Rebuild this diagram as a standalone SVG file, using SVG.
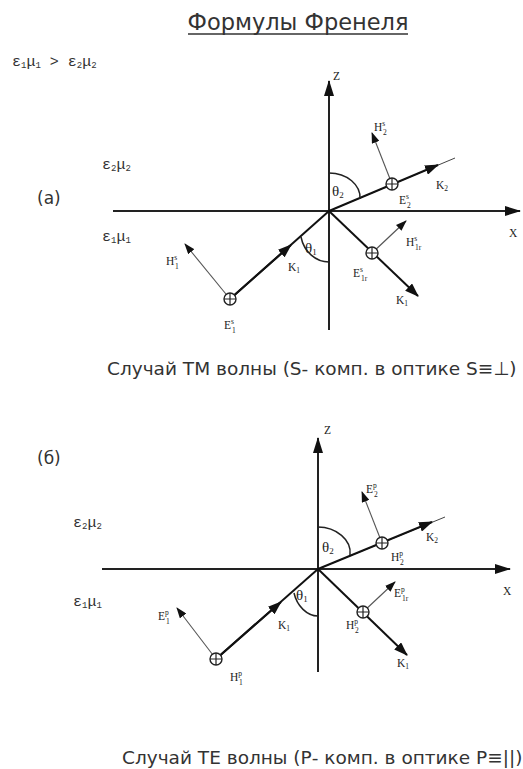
<svg xmlns="http://www.w3.org/2000/svg" width="523" height="769" viewBox="0 0 523 769">
<style>
.ax{stroke:#222;stroke-width:2;fill:none}
.ray{stroke:#111;stroke-width:2;fill:none}
.fld{stroke:#555;stroke-width:1.1;fill:none}
.arc{stroke:#222;stroke-width:1.5;fill:none}
.ext{stroke:#444;stroke-width:1;fill:none}
.cir circle{fill:#fff;stroke:#222;stroke-width:1.4}
.cir path{stroke:#222;stroke-width:1.2}
.lb{font-family:"Liberation Serif","DejaVu Serif",serif;font-size:11.5px;fill:#222}
.sm{font-size:7.5px}
.med{font-family:"Liberation Mono","DejaVu Sans Mono",monospace;font-size:15px;fill:#333}
.sb{font-size:9px}
.th{font-family:"Liberation Serif","DejaVu Serif",serif;font-size:15px;fill:#222}
.sans{font-family:"DejaVu Sans","Liberation Sans",sans-serif;fill:#333}
</style>
<defs>
<marker id="ah" viewBox="0 0 14 10" refX="13" refY="5" markerWidth="14" markerHeight="10" markerUnits="userSpaceOnUse" orient="auto"><path d="M0,0 L14,5 L0,10 z" fill="#111"/></marker>
<marker id="ax" viewBox="0 0 16 10" refX="15" refY="5" markerWidth="16" markerHeight="10" markerUnits="userSpaceOnUse" orient="auto"><path d="M0,0 L16,5 L0,10 z" fill="#111"/></marker>
<marker id="as" viewBox="0 0 11 8" refX="10" refY="4" markerWidth="11" markerHeight="8" markerUnits="userSpaceOnUse" orient="auto"><path d="M0,0 L11,4 L0,8 z" fill="#111"/></marker>
</defs>

<g id="title">
<text class="sans" x="298" y="30" font-size="22.5" text-anchor="middle">Формулы Френеля</text>
<line x1="188" y1="34" x2="408" y2="34" stroke="#333" stroke-width="1.3"/>
</g>
<g id="condition">
<text class="med" x="12" y="66">ε<tspan class="sb" dy="2">1</tspan><tspan dy="-2">μ</tspan><tspan class="sb" dy="2">1</tspan><tspan dy="-2"> &gt; ε</tspan><tspan class="sb" dy="2">2</tspan><tspan dy="-2">μ</tspan><tspan class="sb" dy="2">2</tspan></text>
</g>

<!-- ===== Diagram (a) ===== -->
<g id="connectors-a">
<path class="ax" d="M113,211 L520,211" marker-end="url(#ax)"/>
<path class="ax" d="M329,330 L329,81" stroke-width="1.8" marker-end="url(#ax)"/>
<line class="ext" x1="329" y1="211" x2="455" y2="158"/>
<path class="ray" d="M329,211 L438,165" marker-end="url(#ah)"/>
<path class="ray" d="M329,211 L418,296" marker-end="url(#ah)"/>
<path class="ray" d="M230,299 L329,211"/>
<path class="ray" d="M230,299 L291,245" marker-end="url(#ah)"/>
<path class="fld" d="M392,184 L372,133" marker-end="url(#as)"/>
<path class="fld" d="M372,253 L406,221" marker-end="url(#as)"/>
<path class="fld" d="M230,299 L185,244" marker-end="url(#as)"/>
<path class="arc" d="M329,173 C347,173 361,185 360,199"/>
<path class="arc" d="M301,237 C304,252 316,262 329,262"/>
</g>
<g id="a-E2" class="cir"><circle cx="392" cy="184" r="6"/><path d="M386,184 h12 M392,178 v12"/></g>
<g id="a-E1r" class="cir"><circle cx="372" cy="253" r="6"/><path d="M366,253 h12 M372,247 v12"/></g>
<g id="a-E1" class="cir"><circle cx="230" cy="299" r="6"/><path d="M224,299 h12 M230,293 v12"/></g>
<g id="a-labels">
<text class="sans" x="37" y="204" font-size="17">(a)</text>
<text class="med" x="102" y="169">ε<tspan class="sb" dy="2">2</tspan><tspan dy="-2">μ</tspan><tspan class="sb" dy="2">2</tspan></text>
<text class="med" x="102" y="241">ε<tspan class="sb" dy="2">1</tspan><tspan dy="-2">μ</tspan><tspan class="sb" dy="2">1</tspan></text>
<text class="lb" x="333" y="80" font-size="12">Z</text>
<text class="lb" x="509" y="237" font-size="12">X</text>
<text class="th" x="332" y="196">θ<tspan font-size="9" dy="2">2</tspan></text>
<text class="th" x="305" y="253">θ<tspan font-size="9" dy="2">1</tspan></text>
<text class="lb" x="374" y="131">H<tspan class="sm" dy="-5">s</tspan><tspan class="sm" x="383" dy="9">2</tspan></text>
<text class="lb" x="399" y="204">E<tspan class="sm" dy="-5">s</tspan><tspan class="sm" x="407" dy="9">2</tspan></text>
<text class="lb" x="436" y="189">K<tspan class="sm" dy="2">2</tspan></text>
<text class="lb" x="406" y="246">H<tspan class="sm" dy="-5">s</tspan><tspan class="sm" x="415" dy="9">1r</tspan></text>
<text class="lb" x="353" y="277">E<tspan class="sm" dy="-5">s</tspan><tspan class="sm" x="361" dy="9">1r</tspan></text>
<text class="lb" x="396" y="304">K<tspan class="sm" dy="2">1</tspan></text>
<text class="lb" x="288" y="271">K<tspan class="sm" dy="2">1</tspan></text>
<text class="lb" x="166" y="265">H<tspan class="sm" dy="-5">s</tspan><tspan class="sm" x="175" dy="9">1</tspan></text>
<text class="lb" x="224" y="329">E<tspan class="sm" dy="-5">s</tspan><tspan class="sm" x="232" dy="9">1</tspan></text>
</g>
<g id="caption-a">
<text class="sans" x="107" y="375" font-size="18.5">Случай ТМ волны (S- комп. в оптике S≡⊥)</text>
</g>

<!-- ===== Diagram (б) ===== -->
<g id="connectors-b">
<path class="ax" d="M102,569 L510,569" stroke-width="1.6" marker-end="url(#ax)"/>
<path class="ax" d="M318,672 L318,438" stroke-width="1.6" marker-end="url(#ax)"/>
<line class="ext" x1="318" y1="569" x2="445" y2="517"/>
<path class="ray" d="M318,569 L432,522" marker-end="url(#ah)"/>
<path class="ray" d="M318,569 L407,655" stroke-width="1.6" marker-end="url(#ah)"/>
<path class="ray" d="M216,659 L318,569" stroke-width="1.6"/>
<path class="ray" d="M216,659 L281,602" stroke-width="1.6" marker-end="url(#ah)"/>
<path class="fld" d="M382,543 L362,492" marker-end="url(#as)"/>
<path class="fld" d="M363,612 L395,582" marker-end="url(#as)"/>
<path class="fld" d="M216,659 L177,608" marker-end="url(#as)"/>
<path class="arc" d="M318,527 C336,527 352,540 350,555"/>
<path class="arc" d="M294,593 C297,606 307,616 318,616"/>
</g>
<g id="b-H2" class="cir"><circle cx="382" cy="543" r="6"/><path d="M376,543 h12 M382,537 v12"/></g>
<g id="b-H1r" class="cir"><circle cx="363" cy="612" r="6"/><path d="M357,612 h12 M363,606 v12"/></g>
<g id="b-H1" class="cir"><circle cx="216" cy="659" r="6"/><path d="M210,659 h12 M216,653 v12"/></g>
<g id="b-labels">
<text class="sans" x="37" y="464" font-size="17">(б)</text>
<text class="med" x="73" y="527">ε<tspan class="sb" dy="2">2</tspan><tspan dy="-2">μ</tspan><tspan class="sb" dy="2">2</tspan></text>
<text class="med" x="73" y="606">ε<tspan class="sb" dy="2">1</tspan><tspan dy="-2">μ</tspan><tspan class="sb" dy="2">1</tspan></text>
<text class="lb" x="324" y="434" font-size="12">Z</text>
<text class="lb" x="503" y="595" font-size="12">X</text>
<text class="th" x="322" y="552">θ<tspan font-size="9" dy="2">2</tspan></text>
<text class="th" x="296" y="600">θ<tspan font-size="9" dy="2">1</tspan></text>
<text class="lb" x="366" y="493">E<tspan class="sm" dy="-5">p</tspan><tspan class="sm" x="374" dy="9">2</tspan></text>
<text class="lb" x="391" y="561">H<tspan class="sm" dy="-5">p</tspan><tspan class="sm" x="400" dy="9">2</tspan></text>
<text class="lb" x="426" y="541">K<tspan class="sm" dy="2">2</tspan></text>
<text class="lb" x="394" y="597">E<tspan class="sm" dy="-5">p</tspan><tspan class="sm" x="402" dy="9">1r</tspan></text>
<text class="lb" x="346" y="629">H<tspan class="sm" dy="-5">p</tspan><tspan class="sm" x="355" dy="9">2</tspan></text>
<text class="lb" x="397" y="667">K<tspan class="sm" dy="2">1</tspan></text>
<text class="lb" x="278" y="629">K<tspan class="sm" dy="2">1</tspan></text>
<text class="lb" x="158" y="620">E<tspan class="sm" dy="-5">p</tspan><tspan class="sm" x="166" dy="9">1</tspan></text>
<text class="lb" x="230" y="681">H<tspan class="sm" dy="-5">p</tspan><tspan class="sm" x="239" dy="9">1</tspan></text>
</g>
<g id="caption-b">
<text class="sans" x="122" y="764" font-size="18.5">Случай ТЕ волны (Р- комп. в оптике Р≡||)</text>
</g>
</svg>
